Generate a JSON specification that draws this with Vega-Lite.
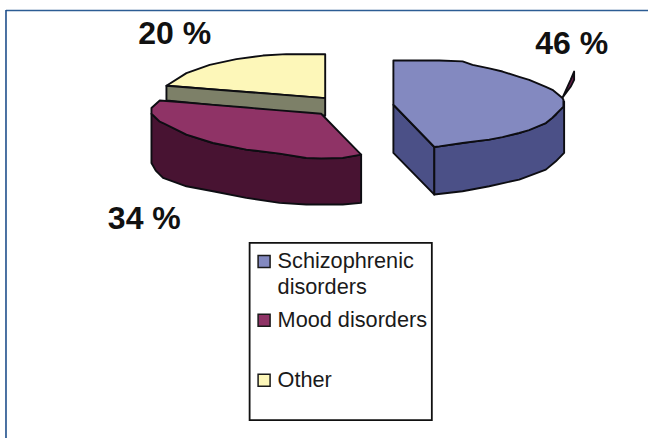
{
  "$schema": "https://vega.github.io/schema/vega-lite/v6.json",
  "autosize": {"type": "fit", "contains": "padding"},
  "width": 649,
  "height": 439,
  "padding": 0,
  "background": "white",
  "view": {"stroke": null},
  "datasets": {
    "slices": [
      {"piece": "other_top", "x": 166.7, "top": 86, "bottom": 86},
      {"piece": "other_top", "x": 186.7, "top": 73.3, "bottom": 87.5},
      {"piece": "other_top", "x": 210, "top": 65, "bottom": 89.4},
      {"piece": "other_top", "x": 236.7, "top": 59.3, "bottom": 91.4},
      {"piece": "other_top", "x": 263.3, "top": 55.7, "bottom": 93.5},
      {"piece": "other_top", "x": 286.7, "top": 54.3, "bottom": 95.3},
      {"piece": "other_top", "x": 325.7, "top": 54.3, "bottom": 98.3},
      {"piece": "other_wall", "x": 166.7, "top": 86, "bottom": 100.7},
      {"piece": "other_wall", "x": 325.7, "top": 98.3, "bottom": 116},
      {"piece": "mood_wall", "x": 151.7, "top": 114, "bottom": 163.3},
      {"piece": "mood_wall", "x": 156, "top": 118, "bottom": 171},
      {"piece": "mood_wall", "x": 163.3, "top": 123.3, "bottom": 178.3},
      {"piece": "mood_wall", "x": 186.7, "top": 135, "bottom": 186.7},
      {"piece": "mood_wall", "x": 213.3, "top": 143.3, "bottom": 191.7},
      {"piece": "mood_wall", "x": 246.7, "top": 150, "bottom": 198.3},
      {"piece": "mood_wall", "x": 280, "top": 154, "bottom": 203.3},
      {"piece": "mood_wall", "x": 306.7, "top": 158.3, "bottom": 205},
      {"piece": "mood_wall", "x": 343.3, "top": 158.3, "bottom": 205},
      {"piece": "mood_wall", "x": 361.7, "top": 155, "bottom": 203.3},
      {"piece": "mood_top", "x": 151.7, "top": 108.3, "bottom": 114},
      {"piece": "mood_top", "x": 160, "top": 100.7, "bottom": 122},
      {"piece": "mood_top", "x": 163.3, "top": 101, "bottom": 123.3},
      {"piece": "mood_top", "x": 186.7, "top": 102.9, "bottom": 135},
      {"piece": "mood_top", "x": 213.3, "top": 105.1, "bottom": 143.3},
      {"piece": "mood_top", "x": 246.7, "top": 107.8, "bottom": 150},
      {"piece": "mood_top", "x": 280, "top": 110.6, "bottom": 154},
      {"piece": "mood_top", "x": 306.7, "top": 112.8, "bottom": 158.3},
      {"piece": "mood_top", "x": 321.7, "top": 114, "bottom": 158.8},
      {"piece": "mood_top", "x": 343.3, "top": 136.1, "bottom": 158.3},
      {"piece": "mood_top", "x": 361.7, "top": 155, "bottom": 155},
      {"piece": "leader", "x": 563.3, "top": 98, "bottom": 98},
      {"piece": "leader", "x": 571.5, "top": 80, "bottom": 87},
      {"piece": "leader", "x": 575, "top": 71.7, "bottom": 80},
      {"piece": "schizo_side", "x": 394, "top": 105, "bottom": 153.3},
      {"piece": "schizo_side", "x": 435, "top": 147.3, "bottom": 195},
      {"piece": "schizo_wall", "x": 435, "top": 147.3, "bottom": 195},
      {"piece": "schizo_wall", "x": 463.3, "top": 143.3, "bottom": 191.7},
      {"piece": "schizo_wall", "x": 490, "top": 140, "bottom": 186.7},
      {"piece": "schizo_wall", "x": 520, "top": 133.3, "bottom": 180},
      {"piece": "schizo_wall", "x": 546.7, "top": 123.3, "bottom": 170},
      {"piece": "schizo_wall", "x": 556.7, "top": 115, "bottom": 161.7},
      {"piece": "schizo_wall", "x": 565, "top": 101.7, "bottom": 153.3},
      {"piece": "schizo_top", "x": 394, "top": 60.7, "bottom": 105},
      {"piece": "schizo_top", "x": 435, "top": 60.7, "bottom": 147.3},
      {"piece": "schizo_top", "x": 440, "top": 60.7, "bottom": 146.7},
      {"piece": "schizo_top", "x": 463.3, "top": 61.5, "bottom": 143.3},
      {"piece": "schizo_top", "x": 473.3, "top": 65, "bottom": 142},
      {"piece": "schizo_top", "x": 490, "top": 68.5, "bottom": 140},
      {"piece": "schizo_top", "x": 503.3, "top": 71.7, "bottom": 137.5},
      {"piece": "schizo_top", "x": 520, "top": 77, "bottom": 133.3},
      {"piece": "schizo_top", "x": 530, "top": 80, "bottom": 130.5},
      {"piece": "schizo_top", "x": 546.7, "top": 87, "bottom": 123.3},
      {"piece": "schizo_top", "x": 553.3, "top": 90, "bottom": 118},
      {"piece": "schizo_top", "x": 563.3, "top": 98.3, "bottom": 108},
      {"piece": "schizo_top", "x": 564.3, "top": 100, "bottom": 106.7}
    ],
    "shares": [
      {"label": "46 %", "x": 536, "y": 54.5},
      {"label": "34 %", "x": 108, "y": 229.5},
      {"label": "20 %", "x": 138.5, "y": 44.5}
    ],
    "legendItems": [
      {"name": "schizo_top", "x": 264.5, "y": 262},
      {"name": "mood_top", "x": 264.5, "y": 321},
      {"name": "other_top", "x": 264.5, "y": 381}
    ],
    "legendText": [
      {"text": "Schizophrenic", "x": 278, "y": 269},
      {"text": "disorders", "x": 278, "y": 295},
      {"text": "Mood disorders", "x": 278, "y": 328},
      {"text": "Other", "x": 278, "y": 388}
    ]
  },
  "encoding": {
    "x": {"type": "quantitative", "scale": {"domain": [0, 649], "nice": false, "zero": false}, "axis": null},
    "y": {"type": "quantitative", "scale": {"domain": [439, 0], "nice": false, "zero": false}, "axis": null}
  },
  "layer": [
    {
      "data": {"values": [{"x": 6, "x2": 649, "y": 10.5}]},
      "mark": {"type": "rule", "color": "#2c5c94", "strokeWidth": 1.6},
      "encoding": {"x": {"field": "x"}, "x2": {"field": "x2"}, "y": {"field": "y"}}
    },
    {
      "data": {"values": [{"x": 6, "y": 10, "y2": 439}]},
      "mark": {"type": "rule", "color": "#1f4f8c", "strokeWidth": 1.6},
      "encoding": {"x": {"field": "x"}, "y": {"field": "y"}, "y2": {"field": "y2"}}
    },
    {
      "data": {"name": "slices"},
      "mark": {"type": "area", "stroke": "#0d0d12", "strokeWidth": 1.9, "strokeJoin": "round", "opacity": 1, "interpolate": "linear"},
      "encoding": {
        "x": {"field": "x"},
        "y": {"field": "top"},
        "y2": {"field": "bottom"},
        "fill": {
          "field": "piece",
          "type": "nominal",
          "legend": null,
          "sort": null,
          "scale": {
            "domain": ["other_top", "other_wall", "mood_wall", "mood_top", "leader", "schizo_side", "schizo_wall", "schizo_top"],
            "range": ["#fdf7b9", "#7d8068", "#481332", "#8f3366", "#6b1f4c", "#4b5087", "#4b5087", "#8389c0"]
          }
        }
      }
    },
    {
      "data": {"name": "shares"},
      "mark": {"type": "text", "align": "left", "baseline": "alphabetic", "font": "Liberation Sans", "fontWeight": "bold", "fontSize": 32, "fill": "#111111"},
      "encoding": {"x": {"field": "x"}, "y": {"field": "y"}, "text": {"field": "label"}}
    },
    {
      "data": {"values": [{"x": 250, "x2": 432.5, "y": 243.5, "y2": 421}]},
      "mark": {"type": "rect", "fill": "white", "stroke": "#111111", "strokeWidth": 1.8},
      "encoding": {"x": {"field": "x"}, "x2": {"field": "x2"}, "y": {"field": "y"}, "y2": {"field": "y2"}}
    },
    {
      "data": {"name": "legendItems"},
      "mark": {"type": "point", "shape": "square", "filled": true, "size": 144, "opacity": 1, "stroke": "#1a1a1a", "strokeWidth": 1.5},
      "encoding": {
        "x": {"field": "x"},
        "y": {"field": "y"},
        "fill": {
          "field": "name",
          "type": "nominal",
          "legend": null,
          "scale": {"domain": ["schizo_top", "mood_top", "other_top"], "range": ["#8389c0", "#8f3366", "#fdf7b9"]}
        }
      }
    },
    {
      "data": {"name": "legendText"},
      "mark": {"type": "text", "align": "left", "baseline": "alphabetic", "font": "Liberation Sans", "fontSize": 21.7, "fill": "#1a1a1a"},
      "encoding": {"x": {"field": "x"}, "y": {"field": "y"}, "text": {"field": "text"}}
    }
  ]
}
